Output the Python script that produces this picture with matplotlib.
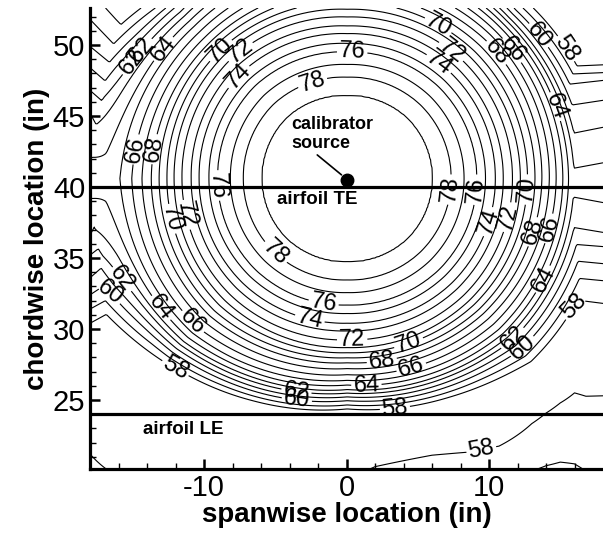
import numpy as np
import matplotlib
matplotlib.use("Agg")
import matplotlib.pyplot as plt

plt.rcParams['font.family'] = ['Liberation Sans', 'DejaVu Sans']
plt.rcParams['axes.unicode_minus'] = False

# source position (in) and radial level profile read along the left half of the TE line
src_x, src_y = 0.05, 40.6
dot_x, dot_y = 0.05, 40.5
radius = [0, 3, 6.0, 7.3, 8.2, 9.1, 9.7, 10.4, 10.95, 11.6, 12.15, 12.65, 13.2, 13.75,
          14.4, 15.1, 15.8, 16.4, 17.0, 17.5, 18.1, 18.7, 19.4, 20.1, 21.5, 25, 35]
level = [79.8, 79.6, 79, 78, 77, 76, 75, 74, 73, 72, 71, 70, 69, 68,
         67, 66, 65, 64, 63, 62, 61, 60, 59, 58, 56, 52, 45]

# stretch of the radius by direction (deg) and distance (in)
angles = [-180, -135, -90, -45, 0, 45, 90, 135, 180]
dist_nodes = [0, 10, 12, 13, 14, 15, 16, 17, 18, 20, 30]
stretch = [
    [1.00, 1.00, 1.00, 1.00, 1.00, 1.00, 0.99, 0.95, 0.89, 0.88, 0.88],
    [1.00, 1.00, 1.00, 1.00, 1.01, 1.02, 1.04, 1.07, 1.10, 1.12, 1.15],
    [1.02, 1.02, 1.02, 1.06, 1.10, 1.15, 1.22, 1.30, 1.36, 1.42, 1.50],
    [1.00, 1.00, 1.00, 1.01, 1.03, 1.05, 1.075, 1.09, 1.10, 1.12, 1.15],
    [1.00, 1.00, 1.00, 1.00, 1.01, 1.04, 1.07, 1.08, 1.09, 1.10, 1.10],
    [1.00, 1.00, 1.00, 1.00, 1.00, 1.04, 1.09, 1.125, 1.14, 1.15, 1.15],
    [1.03, 1.02, 1.02, 1.02, 1.03, 1.04, 1.05, 1.06, 1.07, 1.08, 1.10],
    [1.00, 0.99, 0.99, 1.00, 1.02, 1.04, 1.05, 1.06, 1.09, 1.10, 1.10],
    [1.00, 1.00, 1.00, 1.00, 1.00, 1.00, 0.99, 0.95, 0.89, 0.88, 0.88],
]

# levels along the plot edges
left_y = [20, 21.2, 23, 27, 30.4, 31.4, 32.4, 33.6, 35.2, 36.6, 38.0, 40.3,
          43.5, 45.2, 46.8, 48.4, 49.9, 51.8, 52.6]
left_lev = [58.4, 58.0, 57.3, 57.2, 58.0, 59.0, 60.0, 61.0, 62.0, 63.0, 63.4, 63.6,
            63.5, 63.0, 62.0, 61.0, 60.0, 59.0, 58.6]
right_y = [20, 25, 28, 31.8, 33.4, 34.6, 35.8, 36.8, 38.9, 40.3, 41.7, 44.2, 46.1,
           47.5, 48.6, 50, 52.6]
right_lev = [57.5, 57.0, 57.3, 58.0, 59.0, 60.0, 61.0, 62.0, 63.0, 63.6, 63.0, 62.0, 61.0,
             60.0, 58.0, 56.0, 54.0]
bot_x = [-18, -10, 0, 2, 6, 8.4, 10.7, 13, 14, 15, 16, 16.8, 18]
bot_lev = [56, 56.5, 57.8, 58.1, 58.4, 58.5, 58.7, 59.0, 59.1, 59.15, 59.1, 59.0, 58.9]
bot_slope = [0.3, 0.3, 0.33, 0.33, 0.36, 0.38, 0.4, 0.3, 0.27, 0.24, 0.2, 0.19, 0.17]

te_y = 40.0
le_y = 24.0

odd_levels = np.arange(59, 80, 2)
even_levels = np.arange(58, 80, 2)
label_pos = [(-14.7, 49.9), (-14.7, 48.5), (-12.7, 49.6), (-9.1, 49.9), (-7.5, 49.6),
             (-7.5, 47.7), (0.4, 49.4), (-2.4, 47.4), (6.5, 51.5), (7.4, 49.6),
             (6.5, 48.7), (10.7, 49.6), (11.6, 49.6), (13.4, 50.6), (15.2, 49.6),
             (14.5, 45.6), (-14.6, 42.6), (-13.7, 42.7), (-9.1, 40.1), (-12.5, 37.7),
             (-11.8, 37.9), (7.4, 39.8), (9.1, 39.8), (12.9, 39.8), (10.1, 37.5),
             (11.6, 37.8), (13.2, 36.8), (14.5, 37.0), (-4.8, 35.6), (-15.5, 33.7),
             (-16.7, 32.5), (-13.0, 31.5), (-10.8, 30.5), (-12.2, 26.9), (-1.6, 31.9),
             (-2.6, 30.6), (0.4, 29.2), (4.4, 28.9), (2.5, 27.6), (4.6, 27.1),
             (1.4, 25.9), (-3.5, 25.7), (-3.5, 24.9), (3.4, 24.4), (11.6, 29.4),
             (12.4, 28.7), (16.4, 31.3), (9.5, 21.3), (13.8, 33.5)]

# build the level map
x = np.linspace(-18, 18, 361)
y = np.linspace(20, 52.6, 327)
X, Y = np.meshgrid(x, y)
dx = X - src_x
dy = Y - src_y
d = np.hypot(dx, dy)
theta = np.degrees(np.arctan2(dy, dx))
rows = np.array([np.interp(d, dist_nodes, r) for r in stretch])
pos = (theta + 180) / 45.0
i0 = np.clip(np.floor(pos).astype(int), 0, 7)
w = pos - i0
f0 = np.take_along_axis(rows, i0[None], 0)[0]
f1 = np.take_along_axis(rows, (i0 + 1)[None], 0)[0]
f = f0 * (1 - w) + f1 * w
S = np.interp(d * f, radius, level)

left_slope = np.interp(Y, [20, 22, 26, 52.6], [0.3, 0.45, 0.55, 0.55])
B_left = np.interp(Y, left_y, left_lev) - left_slope * (X + 18)
B_right = np.interp(Y, right_y, right_lev) - 0.08 * (18 - X)
B_bot = np.interp(X, bot_x, bot_lev) - np.interp(X, bot_x, bot_slope) * (Y - 20)
Z = np.maximum.reduce([S, B_left, B_right, B_bot])

fig = plt.figure(figsize=(6.03, 5.33), dpi=100)
ax = fig.add_axes([90 / 603, 64 / 533, 513 / 603, 461 / 533])

ax.contour(X, Y, Z, levels=odd_levels, colors='k', linewidths=0.8)
cs = ax.contour(X, Y, Z, levels=even_levels, colors='k', linewidths=0.8)
ax.clabel(cs, manual=label_pos, inline=True, inline_spacing=2, fontsize=17, fmt='%d')

ax.axhline(te_y, color='k', lw=2.3)
ax.axhline(le_y, color='k', lw=2.3)
ax.plot(dot_x, dot_y, 'o', color='k', ms=9)
ax.annotate('calibrator\nsource', xy=(-0.35, 40.85), xytext=(-3.9, 42.45),
            ha='left', va='bottom', fontsize=13, fontweight='bold', linespacing=1.2,
            arrowprops=dict(arrowstyle='-', color='k', lw=1.2, shrinkA=0, shrinkB=0,
                            relpos=(0.28, 0)))
ax.text(-4.9, 39.1, 'airfoil TE', ha='left', va='center', fontsize=13.5, fontweight='bold')
ax.text(-14.3, 22.9, 'airfoil LE', ha='left', va='center', fontsize=13.5, fontweight='bold')

ax.set_xlim(-18, 18)
ax.set_ylim(20.14, 52.6)
ax.set_xticks([-10, 0, 10])
ax.set_xticks(np.arange(-16, 18, 2), minor=True)
ax.set_yticks([25, 30, 35, 40, 45, 50])
ax.set_yticks(np.arange(21, 53, 1), minor=True)
ax.tick_params(which='both', direction='in', labelsize=21)
ax.tick_params(which='major', length=7, width=1.8)
ax.tick_params(which='minor', length=4, width=1)
ax.spines['top'].set_visible(False)
ax.spines['right'].set_visible(False)
ax.spines['left'].set_linewidth(2.3)
ax.spines['bottom'].set_linewidth(2.3)
ax.set_xlabel('spanwise location (in)', fontsize=20, fontweight='bold', labelpad=0)
ax.set_ylabel('chordwise location (in)', fontsize=20, fontweight='bold', labelpad=2)

fig.savefig('out.png', dpi=100)
